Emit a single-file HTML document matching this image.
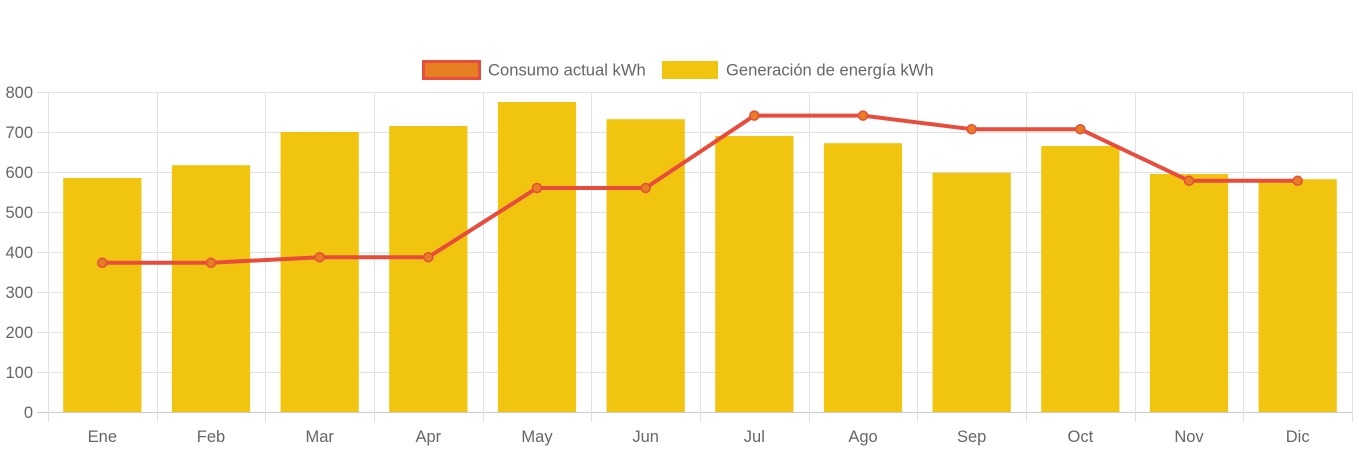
<!DOCTYPE html>
<html><head><meta charset="utf-8"><style>
body{margin:0;background:#fff;}
svg{display:block;font-family:"Liberation Sans",sans-serif;}
</style></head><body>
<svg id="chart" width="1359" height="452">
<g id="grid"></g>
<g id="bars"></g>
<g id="line"></g>
<g id="axes"></g>
<g>
<rect x="423.5" y="61.5" width="56" height="17" fill="#e67e22" stroke="#e74c3c" stroke-width="3"/>
<text x="488" y="75.5" font-size="16.6" fill="#666">Consumo actual kWh</text>
<rect x="662" y="61" width="56" height="18" fill="#f1c40f"/>
<text x="726" y="75.5" font-size="16.6" fill="#666">Generación de energía kWh</text>
</g>
</svg>
<script>
const categories=["Ene","Feb","Mar","Apr","May","Jun","Jul","Ago","Sep","Oct","Nov","Dic"];
const generacion=[585,617,700,715,775,732,690,672,598,665,595,582];
const consumo=[373,373,387,387,560,560,741,741,707,707,578,578];
const yTicks=[0,100,200,300,400,500,600,700,800];
const NS="http://www.w3.org/2000/svg";
const L=48,R=1352,T=92,B=412,yMax=800;
const bw=(R-L)/categories.length;
const x=i=>L+bw*(i+0.5);
const y=v=>B-(v/yMax)*(B-T);
function mk(p,t,a){const e=document.createElementNS(NS,t);for(const k in a)e.setAttribute(k,a[k]);p.appendChild(e);return e;}
const grid=document.getElementById('grid'),axes=document.getElementById('axes');
yTicks.forEach(v=>{
 const l=mk(grid,'line',{x1:37,x2:R,y1:y(v)+0.5,y2:y(v)+0.5,stroke:v===0?'#ccc':'#e1e1e1'});
 
 
 const t=mk(axes,'text',{x:33,y:y(v)+6,'text-anchor':'end','font-size':16.5,fill:'#666'});
 t.textContent=v;
 
 
});
for(let i=0;i<=categories.length;i++){
 const gx=Math.round(L+bw*i)+0.5;
 const l=mk(grid,'line',{x1:gx,x2:gx,y1:T,y2:422,stroke:'#e1e1e1'});
 
 
}
const bars=document.getElementById('bars');
generacion.forEach((v,i)=>{
 const w=bw*0.72;
 const r=mk(bars,'rect',{x:x(i)-w/2,y:y(v),width:w,height:B-y(v),fill:'#f1c40f'});
 
 
 const t=mk(axes,'text',{x:x(i),y:442,'text-anchor':'middle','font-size':16.5,fill:'#666'});
 t.textContent=categories[i];
 
 
});
const lg=document.getElementById('line');
const p=mk(lg,'polyline',{points:consumo.map((v,i)=>x(i)+','+y(v)).join(' '),fill:'none',stroke:'#e74c3c','stroke-width':4,'stroke-linejoin':'round'});


consumo.forEach((v,i)=>{
 const c=mk(lg,'circle',{cx:x(i),cy:y(v),r:4.5,fill:'#e67e22',stroke:'#e74c3c','stroke-width':1.5});
 
 
});
</script>
</body></html>
